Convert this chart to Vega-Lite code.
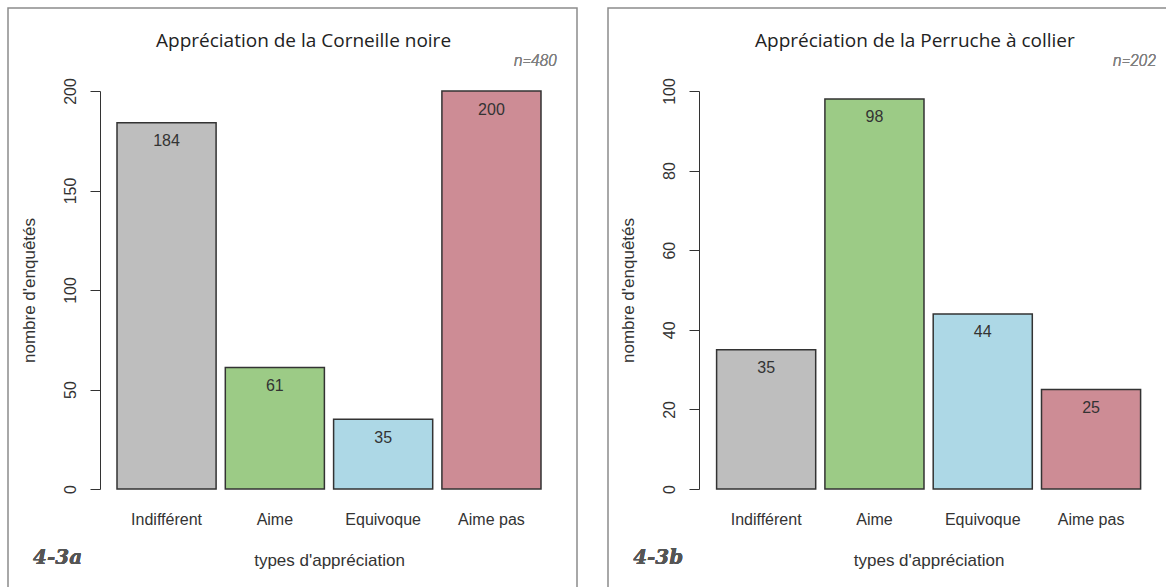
{
  "$schema": "https://vega.github.io/schema/vega-lite/v6.json",
  "padding": {"left": 7, "top": 7, "right": 0, "bottom": 0},
  "background": "white",
  "spacing": 29,
  "config": {
    "font": "Liberation Sans",
    "view": {"stroke": "#8c8c8c", "strokeWidth": 1.5},
    "axis": {"grid": false, "labelFont": "Liberation Sans", "titleFont": "Liberation Sans", "labelColor": "#333", "titleColor": "#333", "titleFontWeight": "normal", "domainColor": "#333", "tickColor": "#333", "labelFlush": false}
  },
  "hconcat": [
    {
      "width": 569,
      "height": 583,
      "title": {"text": "Appréciation de la Corneille noire", "anchor": "start", "frame": "group", "dx": 148, "offset": -58, "baseline": "alphabetic", "font": "Open Sans", "fontSize": 19, "fontWeight": "normal", "color": "#222"},
      "data": {"values": [
        {"type": "Indifférent", "n": 184},
        {"type": "Aime", "n": 61},
        {"type": "Equivoque", "n": 35},
        {"type": "Aime pas", "n": 200}
      ]},
      "layer": [
        {
          "mark": {"type": "bar", "stroke": "#333", "strokeWidth": 1.5},
          "encoding": {
            "x": {"field": "type", "type": "nominal", "scale": {"domain": ["Indifférent", "Aime", "Equivoque", "Aime pas"], "range": [104.4, 537.6], "paddingInner": 0.085, "paddingOuter": 0.0425},
              "axis": {"title": "types d'appréciation", "orient": "bottom", "offset": -102, "domain": false, "ticks": false, "tickSize": 0, "labelPadding": 22, "labelFontSize": 16, "labelAngle": 0, "titleFontSize": 17, "titlePadding": 25}},
            "y": {"field": "n", "type": "quantitative", "scale": {"domain": [0, 200], "range": [481, 83], "nice": false},
              "axis": {"title": "nombre d'enquêtés", "offset": -92, "values": [0, 50, 100, 150, 200], "tickSize": 10, "labelAngle": 270, "labelPadding": 12, "labelFontSize": 16, "titleFontSize": 17, "titlePadding": 24}},
            "color": {"field": "type", "type": "nominal", "scale": {"domain": ["Indifférent", "Aime", "Equivoque", "Aime pas"], "range": ["#bebebe", "#9ccb86", "#add8e6", "#cd8c95"]}, "legend": null}
          }
        },
        {
          "mark": {"type": "text", "dy": 18.5, "fontSize": 16, "color": "#333"},
          "encoding": {
            "x": {"field": "type", "type": "nominal"},
            "y": {"field": "n", "type": "quantitative"},
            "text": {"field": "n", "type": "quantitative"}
          }
        },
        {
          "mark": {"type": "text", "text": "n=480", "align": "right", "baseline": "alphabetic", "dx": 65.5, "font": "Roboto", "fontStyle": "italic", "fontWeight": 300, "fontSize": 16, "color": "#808080"},
          "encoding": {"x": {"datum": "Aime pas"}, "y": {"datum": 212.6}}
        },
        {
          "mark": {"type": "text", "text": "4-3a", "align": "left", "baseline": "alphabetic", "dx": -133.5, "font": "DejaVu Serif", "fontStyle": "italic", "fontWeight": "bold", "fontSize": 20, "color": "#555"},
          "encoding": {"x": {"datum": "Indifférent"}, "y": {"datum": -37.7}}
        }
      ]
    },
    {
      "width": 569,
      "height": 583,
      "title": {"text": "Appréciation de la Perruche à collier", "anchor": "start", "frame": "group", "dx": 147, "offset": -58, "baseline": "alphabetic", "font": "Open Sans", "fontSize": 19, "fontWeight": "normal", "color": "#222"},
      "data": {"values": [
        {"type": "Indifférent", "n": 35},
        {"type": "Aime", "n": 98},
        {"type": "Equivoque", "n": 44},
        {"type": "Aime pas", "n": 25}
      ]},
      "layer": [
        {
          "mark": {"type": "bar", "stroke": "#333", "strokeWidth": 1.5},
          "encoding": {
            "x": {"field": "type", "type": "nominal", "scale": {"domain": ["Indifférent", "Aime", "Equivoque", "Aime pas"], "range": [104, 537.2], "paddingInner": 0.085, "paddingOuter": 0.0425},
              "axis": {"title": "types d'appréciation", "orient": "bottom", "offset": -102, "domain": false, "ticks": false, "tickSize": 0, "labelPadding": 22, "labelFontSize": 16, "labelAngle": 0, "titleFontSize": 17, "titlePadding": 25}},
            "y": {"field": "n", "type": "quantitative", "scale": {"domain": [0, 100], "range": [481, 83], "nice": false},
              "axis": {"title": "nombre d'enquêtés", "offset": -91, "values": [0, 20, 40, 60, 80, 100], "tickSize": 10, "labelAngle": 270, "labelPadding": 12, "labelFontSize": 16, "titleFontSize": 17, "titlePadding": 24}},
            "color": {"field": "type", "type": "nominal", "scale": {"domain": ["Indifférent", "Aime", "Equivoque", "Aime pas"], "range": ["#bebebe", "#9ccb86", "#add8e6", "#cd8c95"]}, "legend": null}
          }
        },
        {
          "mark": {"type": "text", "dy": 18.5, "fontSize": 16, "color": "#333"},
          "encoding": {
            "x": {"field": "type", "type": "nominal"},
            "y": {"field": "n", "type": "quantitative"},
            "text": {"field": "n", "type": "quantitative"}
          }
        },
        {
          "mark": {"type": "text", "text": "n=202", "align": "right", "baseline": "alphabetic", "dx": 65, "font": "Roboto", "fontStyle": "italic", "fontWeight": 300, "fontSize": 16, "color": "#808080"},
          "encoding": {"x": {"datum": "Aime pas"}, "y": {"datum": 106.3}}
        },
        {
          "mark": {"type": "text", "text": "4-3b", "align": "left", "baseline": "alphabetic", "dx": -133, "font": "DejaVu Serif", "fontStyle": "italic", "fontWeight": "bold", "fontSize": 20, "color": "#555"},
          "encoding": {"x": {"datum": "Indifférent"}, "y": {"datum": -18.8}}
        }
      ],
      "resolve": {"scale": {"color": "independent"}}
    }
  ],
  "resolve": {"scale": {"x": "independent", "y": "independent", "color": "independent"}}
}
